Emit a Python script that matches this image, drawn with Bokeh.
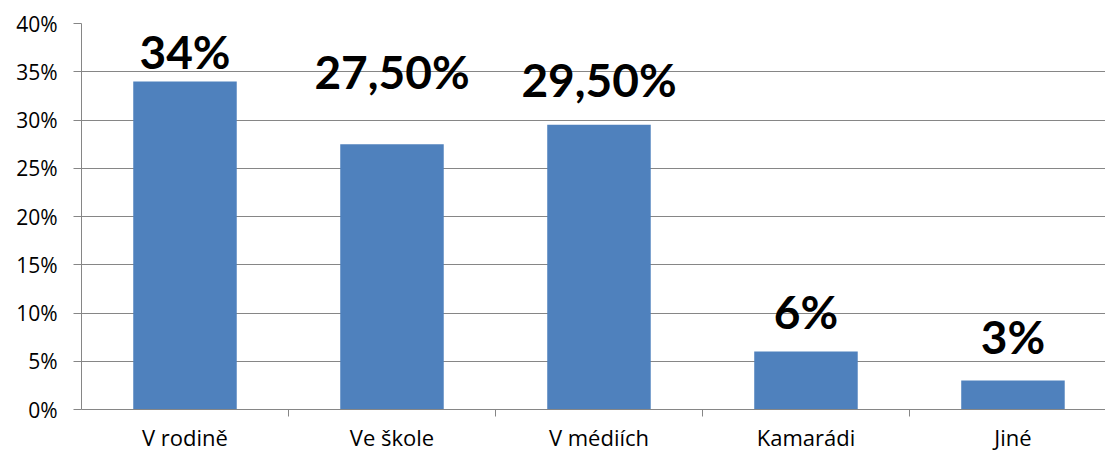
from bokeh.plotting import figure
from bokeh.models import ColumnDataSource, FixedTicker, Range1d
from bokeh.core.properties import value
from bokeh.embed import file_html
from bokeh.resources import INLINE

categories = ["V rodině", "Ve škole", "V médiích", "Kamarádi", "Jiné"]
values = [34, 27.5, 29.5, 6, 3]
labels = ["34%", "27,50%", "29,50%", "6%", "3%"]
y_ticks = [0, 5, 10, 15, 20, 25, 30, 35, 40]
y_tick_labels = ["0%", "5%", "10%", "15%", "20%", "25%", "30%", "35%", "40%"]

# label vertical offsets (pixels above bar top) as placed in the original
label_offsets = [30, 73, 45, 40, 44]

x_pos = [i + 0.5 for i in range(len(categories))]
src = ColumnDataSource(dict(x=x_pos, top=values, lab=labels,
                            off=[-o for o in label_offsets]))

p = figure(width=1105, height=455, output_backend="svg", toolbar_location=None,
           x_range=Range1d(0, 4.947), y_range=Range1d(0, 40),
           min_border_left=81, min_border_top=23, min_border_right=0,
           min_border_bottom=46)
p.outline_line_color = None
p.background_fill_color = "white"
p.border_fill_color = "white"

p.vbar(x="x", top="top", width=0.5, bottom=0, source=src,
       fill_color="#4F81BD", line_color=None)

p.text(x="x", y="top", text="lab", source=src, y_offset="off",
       text_align="center", text_baseline="alphabetic",
       text_font=value("Lato"), text_font_style="bold",
       text_font_size="46px", text_color="#000000")

# y axis
p.yaxis.ticker = FixedTicker(ticks=y_ticks)
p.yaxis.major_label_overrides = {t: l for t, l in zip(y_ticks, y_tick_labels)}
p.yaxis.major_label_text_font = "Open Sans"
p.yaxis.major_label_text_font_size = "21px"
p.yaxis.major_label_text_color = "#000000"
p.yaxis.axis_line_color = "#868686"
p.yaxis.major_tick_line_color = "#868686"
p.yaxis.major_tick_out = 8
p.yaxis.major_tick_in = 0
p.yaxis.minor_tick_line_color = None
p.yaxis.major_label_standoff = 16

# x axis
p.xaxis.ticker = FixedTicker(ticks=x_pos, minor_ticks=[1, 2, 3, 4])
p.xaxis.major_label_overrides = {x: c for x, c in zip(x_pos, categories)}
p.xaxis.major_label_text_font = "Open Sans"
p.xaxis.major_label_text_font_size = "22px"
p.xaxis.major_label_text_color = "#000000"
p.xaxis.axis_line_color = "#868686"
p.xaxis.major_tick_line_color = None
p.xaxis.minor_tick_line_color = "#868686"
p.xaxis.minor_tick_out = 7
p.xaxis.minor_tick_in = 0
p.xaxis.major_label_standoff = 5

p.xgrid.grid_line_color = None
p.ygrid.grid_line_color = "#868686"
p.ygrid.grid_line_width = 1

open("out.html", "w").write(file_html(p, INLINE))
